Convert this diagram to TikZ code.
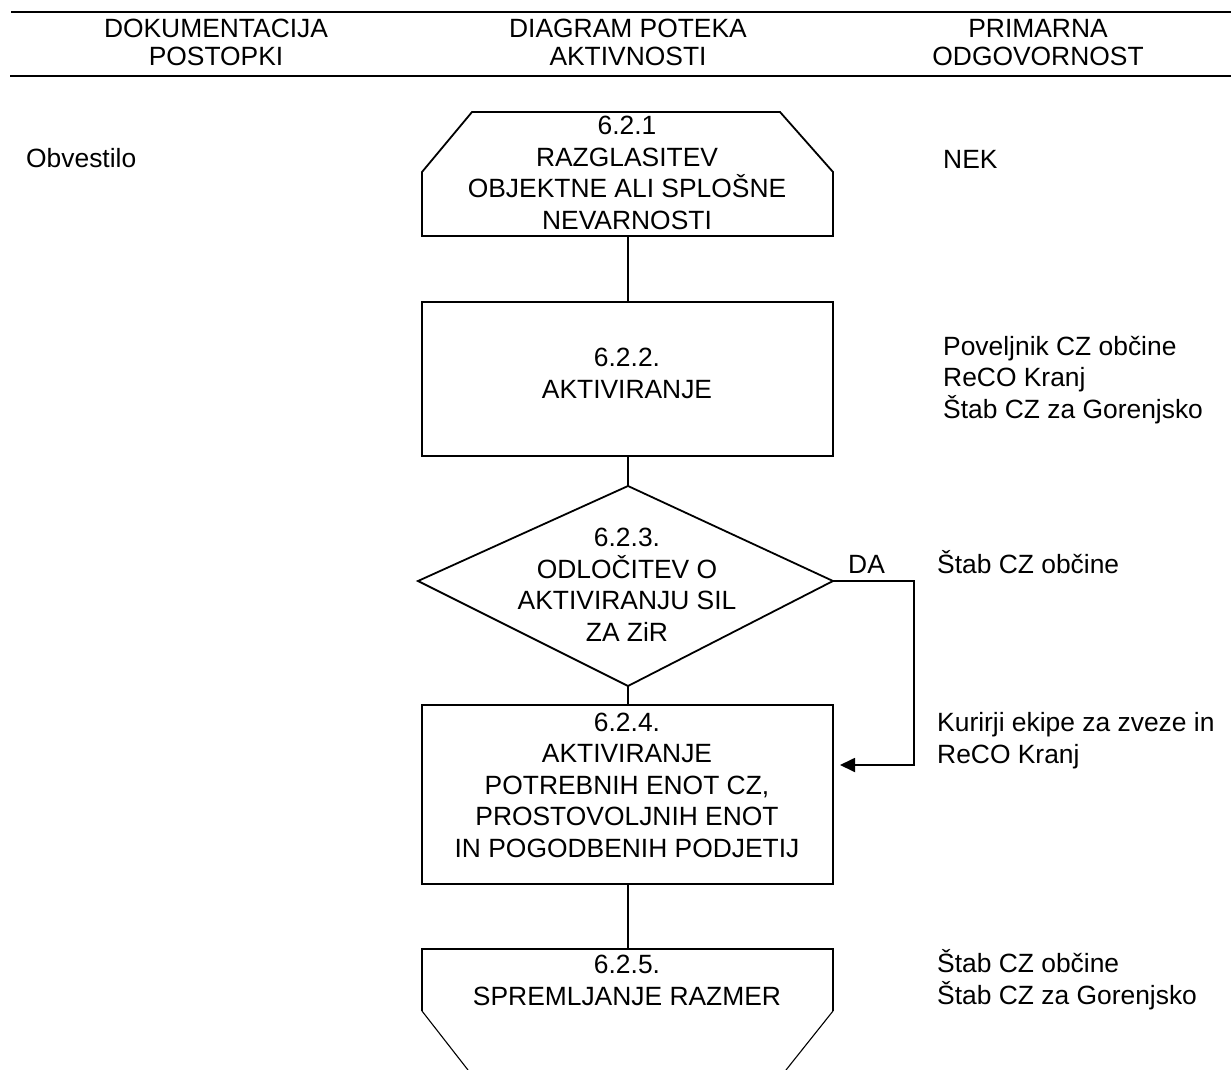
\documentclass[tikz,border=0pt]{standalone}
\usepackage{fontspec}
\setmainfont{Liberation Sans}
\usetikzlibrary{arrows.meta}
\begin{document}
\begin{tikzpicture}[x=1pt,y=-1pt,
  rule/.style={line width=1.8pt},
  shapeline/.style={line width=1.8pt, line join=miter},
  thinline/.style={line width=1.1pt},
  link/.style={line width=1.8pt},
  % multi-line nodes are placed by the baseline of their last line
  head/.style={font=\fontsize{26.4}{28}\selectfont, align=center, anchor=base, inner sep=0pt},
  body/.style={font=\fontsize{26.4}{31.5}\selectfont, align=center, anchor=base, inner sep=0pt},
  side/.style={font=\fontsize{26.4}{31.5}\selectfont, align=left, anchor=base west, inner sep=0pt},
]
\useasboundingbox (0,0) rectangle (1231,1070);

% header rules and column titles
\draw[rule] (11,12) -- (1231,12);
\draw[rule] (10,76) -- (1231,76);
\node[head] (h1) at (216,66) {DOKUMENTACIJA\\POSTOPKI};
\node[head] (h2) at (628,66) {DIAGRAM POTEKA\\AKTIVNOSTI};
\node[head] (h3) at (1038,66) {PRIMARNA\\ODGOVORNOST};

% 6.2.1 : box with chamfered top corners
\coordinate (b1t) at (628,112);
\coordinate (b1b) at (628,236);
\draw[shapeline] (422,236) -- (422,172) -- (472,112) -- (780,112) -- (833,172) -- (833,236) -- cycle;
\node[body] (t1) at (627,229) {6.2.1\\RAZGLASITEV\\OBJEKTNE ALI SPLOŠNE\\NEVARNOSTI};

% 6.2.2 : process box
\coordinate (b2t) at (628,302);
\coordinate (b2b) at (628,456);
\draw[shapeline] (422,302) rectangle (833,456);
\node[body] (t2) at (627,398) {6.2.2.\\AKTIVIRANJE};

% 6.2.3 : decision
\coordinate (dt) at (628,486);
\coordinate (dr) at (833,581);
\coordinate (db) at (628,686);
\coordinate (dl) at (418,581);
\draw[shapeline] (dt) -- (dr) -- (db) -- (dl) -- cycle;
\node[body] (t3) at (627,641) {6.2.3.\\ODLOČITEV O\\AKTIVIRANJU SIL\\ZA ZiR};

% 6.2.4 : process box
\coordinate (b4t) at (628,705);
\coordinate (b4b) at (628,884);
\coordinate (b4r) at (840,765);
\draw[shapeline] (422,705) rectangle (833,884);
\node[body] (t4) at (627,857) {6.2.4.\\AKTIVIRANJE\\POTREBNIH ENOT CZ,\\PROSTOVOLJNIH ENOT\\IN POGODBENIH PODJETIJ};

% 6.2.5 : box narrowing downwards
\coordinate (b5t) at (628,949);
\draw[shapeline] (422,1011) -- (422,949) -- (833,949) -- (833,1011);
\draw[thinline] (422,1011) -- (468,1070);
\draw[thinline] (833,1011) -- (786,1070);
\node[body] (t5) at (627,1005) {6.2.5.\\SPREMLJANJE RAZMER};

% connectors
\draw[link] (b1b) -- (b2t);
\draw[link] (b2b) -- (dt);
\draw[link] (db) -- (b4t);
\draw[link] (b4b) -- (b5t);
\coordinate (yes) at (914,581);
\coordinate (yesdown) at (914,765);
\draw[link, -{Triangle[length=15pt,width=14pt]}] (dr) -- (yes) -- (yesdown) -- (b4r);
\node[side] (da) at (848,573) {DA};

% documentation column
\node[side] (doc1) at (26,167) {Obvestilo};

% responsibility column
\node[side] (r1) at (943,168) {NEK};
\node[side] (r2) at (943,418) {Poveljnik CZ občine\\ReCO Kranj\\Štab CZ za Gorenjsko};
\node[side] (r3) at (937,573) {Štab CZ občine};
\node[side] (r4) at (937,763) {Kurirji ekipe za zveze in\\ReCO Kranj};
\node[side] (r5) at (937,1004) {Štab CZ občine\\Štab CZ za Gorenjsko};
\end{tikzpicture}
\end{document}
